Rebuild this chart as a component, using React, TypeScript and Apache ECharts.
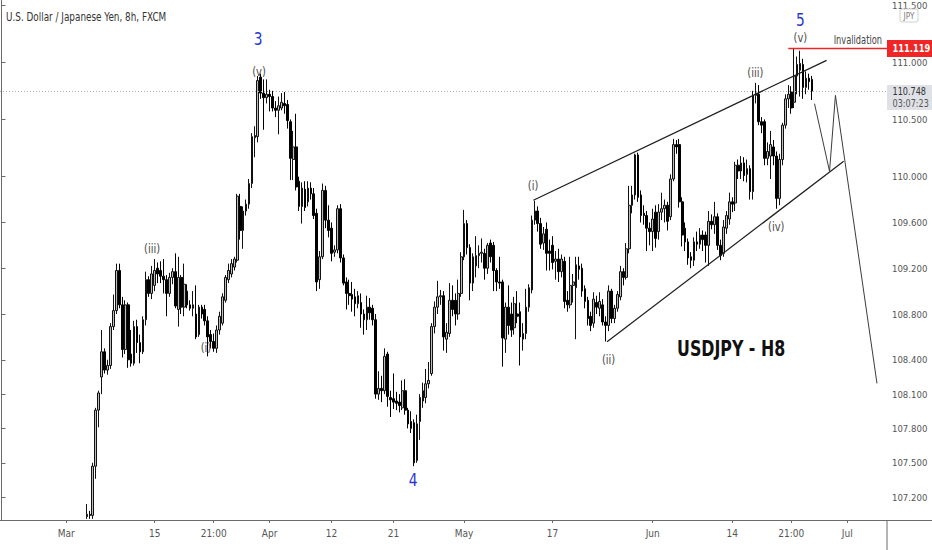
import React, { useEffect, useRef } from 'react';
import * as echarts from 'echarts';

// bar layout: index of first visible bar and total slots on the category axis
const leadingBlank = 29;
const totalBars = 301;

// [open, close, low, high]
const marchBars: number[][] = [
  [107.03, 107.05, 107.01, 107.14], [107.05, 107.04, 107.01, 107.08], [107.04, 107.47, 107.01, 107.50],
  [107.47, 107.96, 107.36, 107.98], [107.96, 108.11, 107.81, 108.13], [108.25, 108.47, 108.10, 108.66],
  [108.47, 108.31, 108.28, 108.50], [108.31, 108.35, 108.27, 108.40], [108.35, 108.69, 108.32, 108.72],
  [108.69, 108.83, 108.66, 108.97], [108.83, 109.18, 108.80, 109.24], [109.18, 108.88, 108.85, 109.24],
  [108.88, 108.49, 108.42, 108.95], [108.49, 108.88, 108.45, 108.92], [108.88, 108.40, 108.33, 108.90],
  [108.45, 108.37, 108.34, 108.66], [108.37, 108.69, 108.35, 108.74], [108.69, 108.55, 108.46, 108.75],
  [108.55, 108.47, 108.37, 108.62], [108.47, 108.75, 108.45, 108.78], [108.75, 109.10, 108.70, 109.17],
  [109.10, 108.98, 108.95, 109.13], [108.98, 109.15, 108.93, 109.22], [109.05, 109.18, 109.00, 109.28],
  [109.20, 109.15, 109.07, 109.25], [109.18, 109.13, 109.07, 109.26], [109.13, 109.10, 108.98, 109.28],
  [109.10, 108.98, 108.78, 109.14], [108.98, 109.12, 108.95, 109.16], [109.12, 109.17, 109.06, 109.20],
  [109.17, 108.87, 108.85, 109.33], [108.84, 109.12, 108.69, 109.30], [109.12, 108.86, 108.80, 109.14],
  [108.86, 109.06, 108.78, 109.24], [109.00, 108.88, 108.85, 109.06], [108.88, 108.85, 108.83, 108.92],
  [108.85, 108.88, 108.78, 109.00], [108.80, 108.60, 108.58, 109.05], [108.62, 108.86, 108.60, 108.88],
  [108.86, 108.80, 108.76, 108.88], [108.84, 108.74, 108.70, 108.88], [108.74, 108.60, 108.43, 108.78],
  [108.62, 108.56, 108.50, 108.66], [108.56, 108.50, 108.47, 108.63], [108.50, 108.66, 108.46, 108.70],
  [108.66, 108.78, 108.62, 108.82], [108.72, 108.95, 108.70, 108.98], [108.92, 109.12, 108.90, 109.14],
  [109.10, 109.18, 109.07, 109.24], [109.15, 109.24, 109.12, 109.28], [109.21, 109.28, 109.18, 109.30],
  [109.27, 109.83, 109.25, 109.85], [109.74, 109.53, 109.45, 109.85], [109.53, 109.70, 109.37, 109.74],
  [109.70, 109.76, 109.66, 109.80], [109.76, 109.94, 109.72, 109.98], [109.94, 110.35, 109.90, 110.38],
  [110.34, 110.36, 110.17, 110.44], [110.35, 110.84, 110.30, 110.88], [110.87, 110.73, 110.68, 110.90],
  [110.73, 110.69, 110.41, 110.85], [110.69, 110.72, 110.64, 110.85],
];

const aprilBars: number[][] = [
  [110.72, 110.70, 110.57, 110.76], [110.70, 110.60, 110.57, 110.75], [110.60, 110.58, 110.52, 110.66],
  [110.58, 110.62, 110.37, 110.70], [110.60, 110.65, 110.58, 110.73], [110.64, 110.62, 110.55, 110.74],
  [110.63, 110.49, 110.42, 110.67], [110.48, 110.16, 109.97, 110.50], [110.15, 110.26, 109.97, 110.40],
  [110.26, 109.91, 109.88, 110.55], [109.96, 109.74, 109.70, 110.00], [109.74, 109.90, 109.59, 109.95],
  [109.89, 109.73, 109.70, 109.96], [109.78, 109.90, 109.74, 109.96], [109.90, 109.85, 109.80, 109.95],
  [109.85, 109.66, 109.63, 109.90], [109.68, 109.08, 109.00, 109.72], [109.10, 109.30, 109.02, 109.35],
  [109.30, 109.88, 109.28, 109.94], [109.88, 109.62, 109.55, 109.92], [109.62, 109.53, 109.47, 109.75],
  [109.55, 109.33, 109.26, 109.60], [109.34, 109.36, 109.30, 109.40], [109.36, 109.72, 109.33, 109.75],
  [109.72, 109.29, 109.25, 109.76], [109.29, 109.07, 109.05, 109.32], [109.08, 108.98, 108.84, 109.12],
  [108.98, 108.96, 108.88, 109.10], [108.97, 108.93, 108.82, 109.08], [108.95, 108.89, 108.78, 109.02],
  [108.89, 108.96, 108.85, 109.00], [108.90, 108.80, 108.68, 108.98], [108.80, 108.75, 108.62, 108.84],
  [108.75, 108.86, 108.66, 108.96], [108.86, 108.81, 108.75, 108.94], [108.85, 108.75, 108.70, 108.88],
  [108.75, 108.10, 108.06, 108.80], [108.10, 108.15, 108.05, 108.30], [108.15, 108.13, 108.03, 108.26],
  [108.13, 108.43, 108.10, 108.50], [108.45, 108.08, 107.99, 108.47], [108.07, 108.05, 107.90, 108.13],
  [108.06, 108.03, 107.97, 108.28], [108.04, 108.02, 107.96, 108.12], [108.03, 108.00, 107.94, 108.10],
  [107.98, 108.13, 107.96, 108.22], [108.13, 107.96, 107.92, 108.23], [107.96, 107.84, 107.80, 107.98],
  [107.86, 107.80, 107.76, 107.95], [107.85, 107.50, 107.47, 107.88], [107.52, 107.84, 107.50, 107.92],
  [107.86, 108.07, 107.70, 108.10], [108.04, 108.13, 107.98, 108.20], [108.07, 108.19, 108.02, 108.32],
  [108.19, 108.22, 108.15, 108.38], [108.28, 108.69, 108.26, 108.72], [108.69, 108.86, 108.63, 108.91],
  [108.86, 108.95, 108.80, 109.09], [108.95, 108.96, 108.88, 109.01], [108.96, 108.60, 108.48, 109.00],
  [108.58, 108.64, 108.46, 108.72], [108.63, 108.92, 108.60, 109.07], [108.92, 108.84, 108.78, 109.05],
  [108.92, 108.80, 108.70, 108.98], [108.80, 108.98, 108.75, 109.10], [108.98, 109.30, 108.95, 109.34],
];

const mayBars: number[][] = [
  [109.30, 109.59, 109.27, 109.71], [109.59, 109.38, 109.32, 109.62], [109.38, 109.07, 108.92, 109.41],
  [109.07, 109.30, 109.00, 109.33], [109.22, 109.31, 109.12, 109.48], [109.31, 109.33, 109.20, 109.40],
  [109.33, 109.34, 109.25, 109.46], [109.33, 109.20, 109.10, 109.37], [109.20, 109.40, 109.15, 109.42],
  [109.42, 109.30, 109.25, 109.45], [109.40, 109.18, 109.00, 109.43], [109.18, 109.08, 109.00, 109.20],
  [109.08, 109.07, 109.02, 109.30], [109.08, 108.59, 108.34, 109.10], [108.58, 108.86, 108.46, 108.90],
  [108.86, 108.70, 108.62, 109.05], [108.80, 108.66, 108.60, 108.90], [108.68, 108.89, 108.62, 108.95],
  [108.80, 108.78, 108.72, 109.00], [108.82, 108.60, 108.35, 108.90], [108.58, 108.63, 108.48, 108.72],
  [108.63, 108.86, 108.58, 109.02], [108.86, 109.03, 108.82, 109.06], [109.01, 109.62, 108.98, 109.66],
  [109.62, 109.70, 109.58, 109.79], [109.70, 109.59, 109.52, 109.74], [109.59, 109.41, 109.37, 109.64],
  [109.42, 109.50, 109.36, 109.56], [109.54, 109.33, 109.18, 109.60], [109.35, 109.33, 109.18, 109.45],
  [109.40, 109.25, 109.19, 109.48], [109.26, 109.28, 109.10, 109.35], [109.28, 109.17, 109.08, 109.37],
  [109.17, 109.28, 109.12, 109.32], [109.26, 108.91, 108.85, 109.30], [108.92, 108.88, 108.82, 109.00],
  [108.88, 109.05, 108.85, 109.30], [109.05, 109.08, 108.90, 109.15], [109.03, 109.23, 108.58, 109.30],
  [109.22, 109.19, 109.10, 109.30], [109.20, 109.00, 108.95, 109.24], [109.02, 108.91, 108.85, 109.05],
  [108.92, 108.76, 108.70, 108.95], [108.78, 108.70, 108.65, 108.82], [108.72, 108.93, 108.68, 108.99],
  [108.90, 108.86, 108.80, 108.96], [108.85, 108.91, 108.78, 108.99], [108.88, 108.73, 108.70, 108.93],
  [108.73, 108.70, 108.56, 108.78], [108.70, 109.00, 108.65, 109.05], [109.00, 108.76, 108.72, 109.02],
  [108.76, 108.85, 108.72, 108.88], [108.85, 108.97, 108.82, 109.00], [108.95, 109.17, 108.92, 109.22],
  [109.17, 109.12, 109.05, 109.20], [109.12, 109.37, 109.10, 109.42], [109.37, 109.75, 109.33, 109.92],
  [109.75, 109.84, 109.68, 109.92], [109.84, 110.19, 109.80, 110.20], [110.19, 109.82, 109.78, 110.21],
  [109.84, 109.66, 109.60, 109.88], [109.68, 109.66, 109.58, 109.75], [109.66, 109.55, 109.35, 109.70],
  [109.55, 109.52, 109.40, 109.60],
];

const juneBars: number[][] = [
  [109.52, 109.63, 109.35, 109.72], [109.69, 109.46, 109.38, 109.75], [109.52, 109.69, 109.45, 109.76],
  [109.69, 109.72, 109.62, 109.86], [109.72, 109.75, 109.60, 109.80], [109.75, 109.61, 109.53, 109.78],
  [109.65, 109.98, 109.62, 110.02], [109.98, 110.28, 109.96, 110.33], [110.28, 110.26, 110.20, 110.32],
  [110.28, 109.78, 109.73, 110.33], [109.78, 109.49, 109.39, 109.82], [109.55, 109.43, 109.35, 109.60],
  [109.43, 109.29, 109.23, 109.46], [109.30, 109.27, 109.20, 109.34], [109.27, 109.43, 109.22, 109.47],
  [109.43, 109.41, 109.35, 109.52], [109.41, 109.49, 109.37, 109.55], [109.49, 109.45, 109.35, 109.53],
  [109.49, 109.40, 109.25, 109.52], [109.40, 109.61, 109.22, 109.70], [109.61, 109.58, 109.54, 109.67],
  [109.58, 109.65, 109.50, 109.78], [109.65, 109.40, 109.36, 109.68], [109.40, 109.31, 109.27, 109.45],
  [109.33, 109.56, 109.30, 109.62], [109.55, 109.66, 109.50, 109.70], [109.63, 109.78, 109.58, 109.86],
  [109.78, 109.76, 109.69, 109.82], [109.77, 110.10, 109.70, 110.13], [110.10, 110.05, 109.98, 110.15],
  [110.05, 110.12, 109.98, 110.18], [110.12, 110.01, 109.96, 110.17], [110.02, 110.07, 109.95, 110.15],
  [110.07, 109.87, 109.80, 110.10], [109.87, 110.71, 109.80, 110.75], [110.71, 110.73, 110.64, 110.82],
  [110.72, 110.48, 110.45, 110.80], [110.48, 110.45, 110.38, 110.52], [110.48, 110.16, 110.10, 110.50],
  [110.16, 110.22, 110.10, 110.30], [110.18, 110.28, 109.98, 110.40], [110.26, 110.18, 110.10, 110.32],
  [110.18, 109.81, 109.72, 110.22], [109.81, 110.15, 109.75, 110.20], [110.15, 110.45, 110.10, 110.47],
  [110.45, 110.68, 110.42, 110.72], [110.68, 110.72, 110.60, 110.80], [110.74, 110.60, 110.55, 110.79],
  [110.65, 110.88, 110.60, 111.119], [110.88, 110.98, 110.72, 111.05], [110.93, 110.99, 110.70, 111.10],
  [110.98, 110.78, 110.68, 111.03], [110.78, 110.86, 110.72, 110.92], [110.86, 110.83, 110.76, 110.90],
  [110.85, 110.748, 110.67, 110.88],
];

// axes
const xTickIndex = [22, 52, 72, 91, 112, 133, 157, 187, 221, 248, 268, 287];
const xTickText = ['Mar', '15', '21:00', 'Apr', '12', '21', 'May', '17', 'Jun', '14', '21:00', 'Jul'];
const yTickValues = [107.2, 107.5, 107.8, 108.1, 108.4, 108.8, 109.2, 109.6, 110.0, 110.5, 111.0, 111.5];
const yMin = 107.0;
const yMax = 111.54;

// price markers
const lastPrice = 110.748;
const countdown = '03:07:23';
const invalidation = 111.119;
const invalidationStart = 267;

// drawings, in [bar index, price]
const upperWedge = [[180.5, 109.794], [280.0, 111.016]];
const lowerWedge = [[205.5, 108.557], [285.8, 110.134]];
const projection = [[275.9, 110.638], [281.0, 110.047], [283.0, 110.71], [297.1, 108.194]];

const waveNumbers = [
  { text: '3', x: 87.1, y: 111.21 },
  { text: '4', x: 139.7, y: 107.35 },
  { text: '5', x: 271.1, y: 111.37 },
];
const subWaveLabels = [
  { text: '(v)', x: 87.4, y: 110.914 },
  { text: '(iii)', x: 51.1, y: 109.375 },
  { text: '(i)', x: 69.4, y: 108.502 },
  { text: '(i)', x: 180.4, y: 109.925 },
  { text: '(ii)', x: 206.0, y: 108.40 },
  { text: '(iii)', x: 255.8, y: 110.91 },
  { text: '(iv)', x: 262.9, y: 109.56 },
  { text: '(v)', x: 271.1, y: 111.21 },
];
const chartTitle = 'U.S. Dollar / Japanese Yen, 8h, FXCM';
const symbolNote = { text: 'USDJPY - H8', x: 247.6, y: 108.5 };
const invalidationNote = { text: 'Invalidation', x: 290.6, y: 111.2 };

const FONT = "'Liberation Sans Narrow', 'DejaVu Sans Condensed', 'Liberation Sans', sans-serif";

export default function App() {
  const ref = useRef<HTMLDivElement>(null);

  useEffect(() => {
    if (!ref.current) return;
    const chart = echarts.init(ref.current, null, { renderer: 'svg' });

    const bars = [...marchBars, ...aprilBars, ...mayBars, ...juneBars];
    const candleData: any[] = [];
    for (let i = 0; i < totalBars; i++) {
      const k = i - leadingBlank;
      candleData.push(k >= 0 && k < bars.length ? bars[k] : '-');
    }
    const categories = Array.from({ length: totalBars }, (_, i) => String(i));
    const tickSet = new Set(xTickIndex);
    const labelMap: Record<number, string> = {};
    xTickIndex.forEach((idx, j) => (labelMap[idx] = xTickText[j]));

    const lineSeries = (data: number[][], color: string, width: number) => ({
      type: 'line',
      xAxisIndex: 1,
      yAxisIndex: 0,
      data,
      symbol: 'none',
      silent: true,
      lineStyle: { color, width },
      z: 5,
    });

    chart.setOption({
      animation: false,
      backgroundColor: '#ffffff',
      textStyle: { fontFamily: FONT },
      grid: { left: 0, right: 45, top: 0, bottom: 30, containLabel: false },
      xAxis: [
        {
          type: 'category',
          data: categories,
          boundaryGap: true,
          axisLine: { show: true, lineStyle: { color: '#6b6b6b', width: 1 } },
          axisTick: {
            show: true,
            alignWithLabel: true,
            interval: (idx: number) => tickSet.has(idx),
            length: 3,
            lineStyle: { color: '#6b6b6b' },
          },
          axisLabel: {
            interval: (idx: number) => tickSet.has(idx),
            formatter: (_v: string, idx: number) => labelMap[idx] ?? '',
            color: '#555',
            fontSize: 10,
            fontFamily: FONT,
            margin: 8,
          },
          splitLine: { show: false },
        },
        {
          type: 'value',
          min: -0.5,
          max: totalBars - 0.5,
          show: false,
        },
      ],
      yAxis: {
        type: 'value',
        position: 'right',
        min: yMin,
        max: yMax,
        scale: true,
        axisLine: { show: true, lineStyle: { color: '#6b6b6b', width: 1 } },
        axisTick: { show: true, length: 4, customValues: yTickValues, lineStyle: { color: '#6b6b6b' } },
        axisLabel: {
          customValues: yTickValues,
          formatter: (v: number) => v.toFixed(3),
          color: '#555',
          fontSize: 9.5,
          fontFamily: FONT,
          margin: 5,
        },
        splitLine: { show: false },
      },
      series: [
        {
          type: 'candlestick',
          data: candleData,
          barWidth: 2.2,
          clip: true,
          itemStyle: {
            color: '#bdbdbd',
            color0: '#000000',
            borderColor: '#111111',
            borderColor0: '#000000',
            borderWidth: 1,
          },
          markLine: {
            silent: true,
            symbol: 'none',
            label: { show: false },
            lineStyle: { type: [1, 2], color: '#a9a9a9', width: 1 },
            data: [{ yAxis: lastPrice }],
          },
          z: 3,
        },
        lineSeries(upperWedge, '#1e1e1e', 1.2),
        lineSeries(lowerWedge, '#1e1e1e', 1.2),
        lineSeries(projection, '#3c3c3c', 1),
        lineSeries([[invalidationStart, invalidation], [totalBars - 0.5, invalidation]], '#f02626', 1.5),
      ],
    });

    const px = (x: number, y: number) => chart.convertToPixel({ xAxisIndex: 1, yAxisIndex: 0 }, [x, y]) as number[];
    const yOf = (v: number) => chart.convertToPixel({ yAxisIndex: 0 }, v) as number;

    const txt = (x: number, y: number, text: string, fill: string, fontSize: number, scaleX: number, align = 'center', fontWeight = 'normal', z = 10) => ({
      type: 'text', x, y, scaleX, z,
      style: { text, fill, fontSize, fontFamily: FONT, fontWeight, align, verticalAlign: 'middle' },
    });

    const graphics: any[] = [];
    graphics.push(txt(6, 17.5, chartTitle, '#333', 12, 0.82, 'left'));
    waveNumbers.forEach((w) => {
      const [x, y] = px(w.x, w.y);
      graphics.push(txt(x, y, w.text, '#2a37d0', 18, 0.85));
    });
    subWaveLabels.forEach((w) => {
      const [x, y] = px(w.x, w.y);
      graphics.push(txt(x, y, w.text, '#4a4a4a', 13, 0.85));
    });
    {
      const [x, y] = px(symbolNote.x, symbolNote.y);
      graphics.push(txt(x, y, symbolNote.text, '#111', 22, 0.8, 'center', 'bold'));
    }
    {
      const [x, y] = px(invalidationNote.x, invalidationNote.y);
      graphics.push(txt(x, y, invalidationNote.text, '#444', 11.5, 0.8));
    }
    // extensions of the axis lines into the corner
    graphics.push({ type: 'line', shape: { x1: 887, y1: 520, x2: 887, y2: 550 }, style: { stroke: '#6b6b6b', lineWidth: 1 } });
    graphics.push({ type: 'line', shape: { x1: 887, y1: 520.5, x2: 932, y2: 520.5 }, style: { stroke: '#6b6b6b', lineWidth: 1 } });
    // currency box
    graphics.push({ type: 'rect', shape: { x: 900, y: 9, width: 18, height: 13, r: 2 }, style: { fill: '#fff', stroke: '#d0d0d0', lineWidth: 1 }, z: 20 });
    graphics.push(txt(909, 15.5, 'JPY', '#777', 9.5, 0.85, 'center', 'normal', 21));
    // invalidation price box
    const yInv = yOf(invalidation);
    graphics.push({ type: 'rect', shape: { x: 887, y: yInv - 8.5, width: 45, height: 17 }, style: { fill: '#f02626' }, z: 20 });
    graphics.push(txt(892.5, yInv, invalidation.toFixed(3), '#fff', 10.5, 0.88, 'left', 'bold', 21));
    // last price box
    const yLast = yOf(lastPrice);
    graphics.push({ type: 'rect', shape: { x: 887, y: yLast - 6, width: 45, height: 25 }, style: { fill: '#dfe1e6' }, z: 20 });
    graphics.push(txt(892.5, yLast, lastPrice.toFixed(3), '#333', 10, 0.9, 'left', 'normal', 21));
    graphics.push(txt(892.5, yLast + 12.5, countdown, '#555', 10, 0.9, 'left', 'normal', 21));

    chart.setOption({ graphic: graphics });

    return () => chart.dispose();
  }, []);

  return (
    <div
      ref={ref}
      style={{ position: 'fixed', left: 0, top: 0, width: 932, height: 550, background: '#fff' }}
    />
  );
}
